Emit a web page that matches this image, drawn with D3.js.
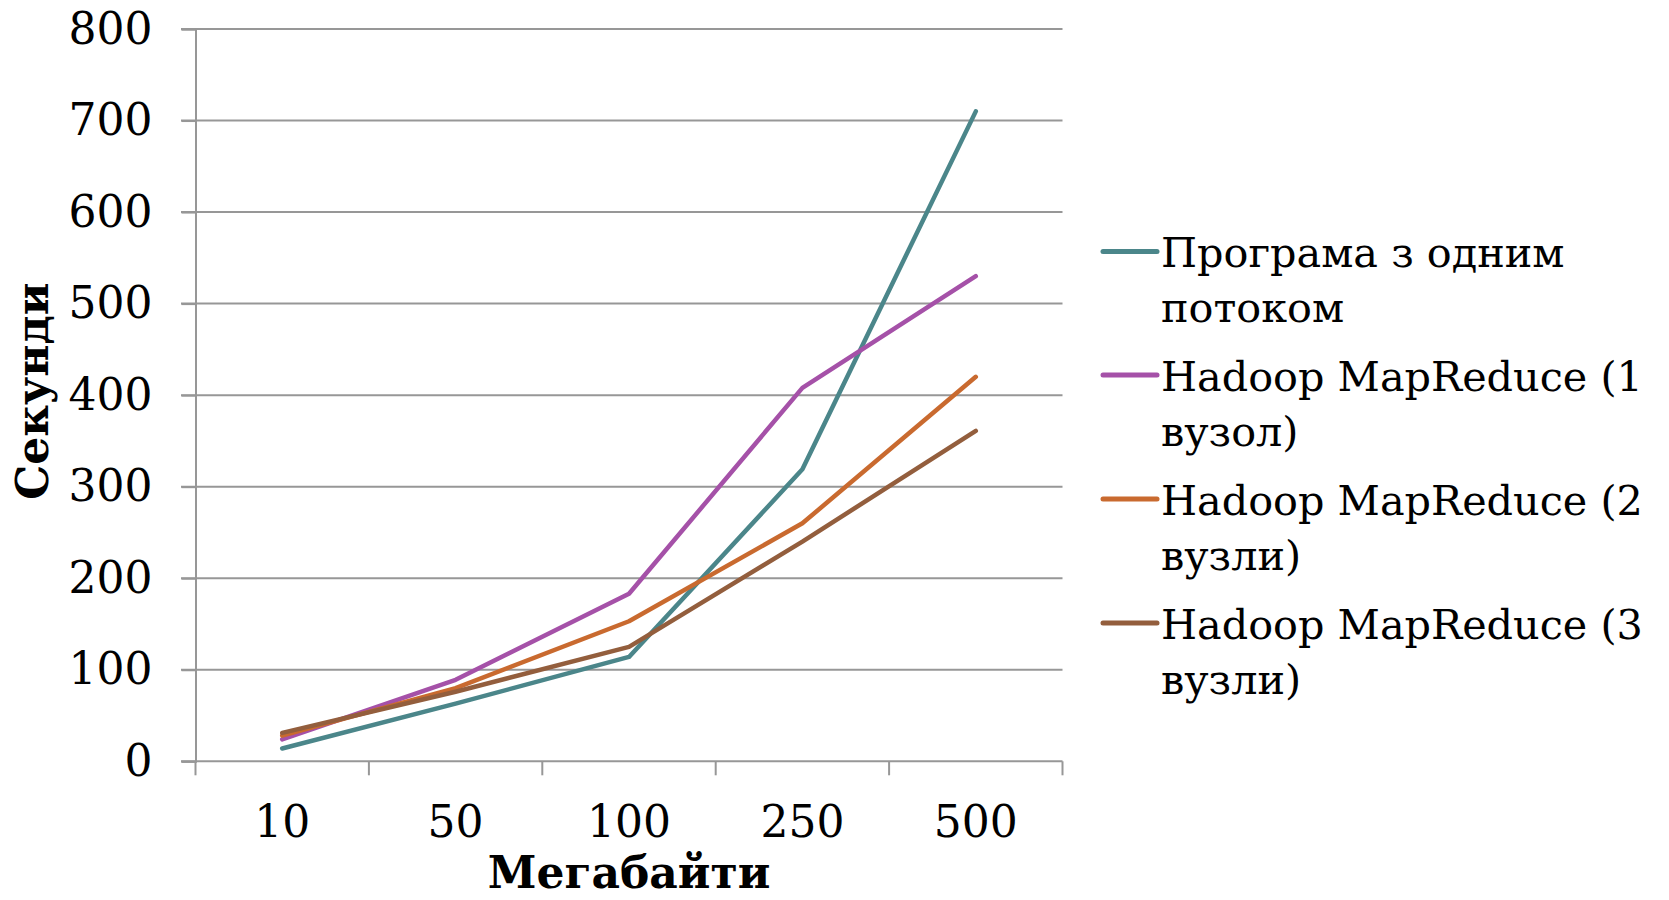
<!DOCTYPE html>
<html>
<head>
<meta charset="utf-8">
<script src="https://cdn.jsdelivr.net/npm/d3@7"></script>
<style>
  html, body { margin: 0; padding: 0; background: #fff; }
  svg { display: block; }
  text { font-family: "DejaVu Serif", serif; fill: #000; }
</style>
</head>
<body>
<svg id="chart" width="1669" height="900"></svg>
<script>
// Processing time (seconds) by input size (megabytes)
const categories = ["10", "50", "100", "250", "500"];
const singleThread = [14, 63, 114, 319, 710];
const hadoop1 = [24, 89, 183, 408, 530];
const hadoop2 = [28, 80, 153, 260, 420];
const hadoop3 = [31, 76, 125, 240, 361];
const seriesNames = [
  ["Програма з одним", "потоком"],
  ["Hadoop MapReduce (1", "вузол)"],
  ["Hadoop MapReduce (2", "вузли)"],
  ["Hadoop MapReduce (3", "вузли)"]
];
const seriesColors = ["#4b868a", "#a551a8", "#c96a2f", "#935e3d"];
const yTicks = [0, 100, 200, 300, 400, 500, 600, 700, 800];
const xTitle = "Мегабайти";
const yTitle = "Секунди";

const series = [singleThread, hadoop1, hadoop2, hadoop3];

const svg = d3.select("#chart");
const gridColor = "#979797";

const x = d3.scaleBand().domain(categories).range([195.5, 1062.5]).padding(0);
const y = d3.scaleLinear().domain([0, 800]).range([761.3, 29]);

// horizontal gridlines
svg.append("g")
  .selectAll("line")
  .data(yTicks)
  .join("line")
  .attr("x1", 181).attr("x2", x.range()[1])
  .attr("y1", d => y(d)).attr("y2", d => y(d))
  .attr("stroke", gridColor).attr("stroke-width", 2);

// y axis
const yAxis = svg.append("g")
  .attr("transform", `translate(${x.range()[0]},0)`)
  .call(d3.axisLeft(y).tickValues(yTicks).tickSize(14).tickPadding(29));
yAxis.select(".domain").attr("stroke", gridColor).attr("stroke-width", 2);
yAxis.selectAll(".tick line").attr("stroke", gridColor).attr("stroke-width", 2);
yAxis.selectAll(".tick text")
  .style("font-family", '"DejaVu Serif", serif')
  .style("font-size", "44px")
  .attr("fill", "#000");

// x axis: labels at band centres, ticks at band boundaries
const xAxis = svg.append("g")
  .attr("transform", `translate(0,${y(0)})`)
  .call(d3.axisBottom(x).tickSize(0).tickPadding(44));
xAxis.select(".domain").remove();
xAxis.selectAll(".tick text")
  .style("font-family", '"DejaVu Serif", serif')
  .style("font-size", "44px")
  .attr("fill", "#000");

const bounds = categories.map(c => x(c)).concat([x.range()[1]]);
svg.append("g")
  .selectAll("line")
  .data(bounds)
  .join("line")
  .attr("x1", d => d).attr("x2", d => d)
  .attr("y1", y(0)).attr("y2", y(0) + 14)
  .attr("stroke", gridColor).attr("stroke-width", 2);

// series lines
const line = d3.line()
  .x((d, i) => x(categories[i]) + x.bandwidth() / 2)
  .y(d => y(d));

svg.append("g")
  .selectAll("path")
  .data(series)
  .join("path")
  .attr("d", d => line(d))
  .attr("fill", "none")
  .attr("stroke", (d, i) => seriesColors[i])
  .attr("stroke-width", 4.5)
  .attr("stroke-linecap", "round")
  .attr("stroke-linejoin", "round");

// axis titles
svg.append("text")
  .attr("x", x(categories[0]) + (x.range()[1] - x.range()[0]) / 2)
  .attr("y", 888)
  .attr("text-anchor", "middle")
  .style("font-size", "44px")
  .style("font-weight", "bold")
  .text(xTitle);

svg.append("text")
  .attr("transform", `translate(48,${(y(0) + y(800)) / 2 - 4}) rotate(-90)`)
  .attr("text-anchor", "middle")
  .style("font-size", "44px")
  .style("font-weight", "bold")
  .text(yTitle);

// legend
const legendY = [251.5, 375, 499, 623];
const legendTextX = 1161;
const legendMaxWidth = 482; // widest label must end before the right edge
const legend = svg.append("g");
const legendTexts = [];
seriesNames.forEach((lines, i) => {
  const g = legend.append("g").attr("transform", `translate(0,${legendY[i]})`);
  g.append("line")
    .attr("x1", 1103).attr("x2", 1157)
    .attr("y1", 0).attr("y2", 0)
    .attr("stroke", seriesColors[i])
    .attr("stroke-width", 5)
    .attr("stroke-linecap", "round");
  lines.forEach((t, j) => {
    legendTexts.push(g.append("text")
      .attr("x", legendTextX)
      .attr("y", 15.5 + j * 55)
      .style("font-size", "44px")
      .text(t));
  });
});
// shrink the legend font so the longest label fits
const widest = d3.max(legendTexts, t => t.node().getComputedTextLength());
if (widest > legendMaxWidth) {
  const size = 44 * legendMaxWidth / widest;
  legendTexts.forEach(t => t.style("font-size", size + "px"));
}
</script>
</body>
</html>
